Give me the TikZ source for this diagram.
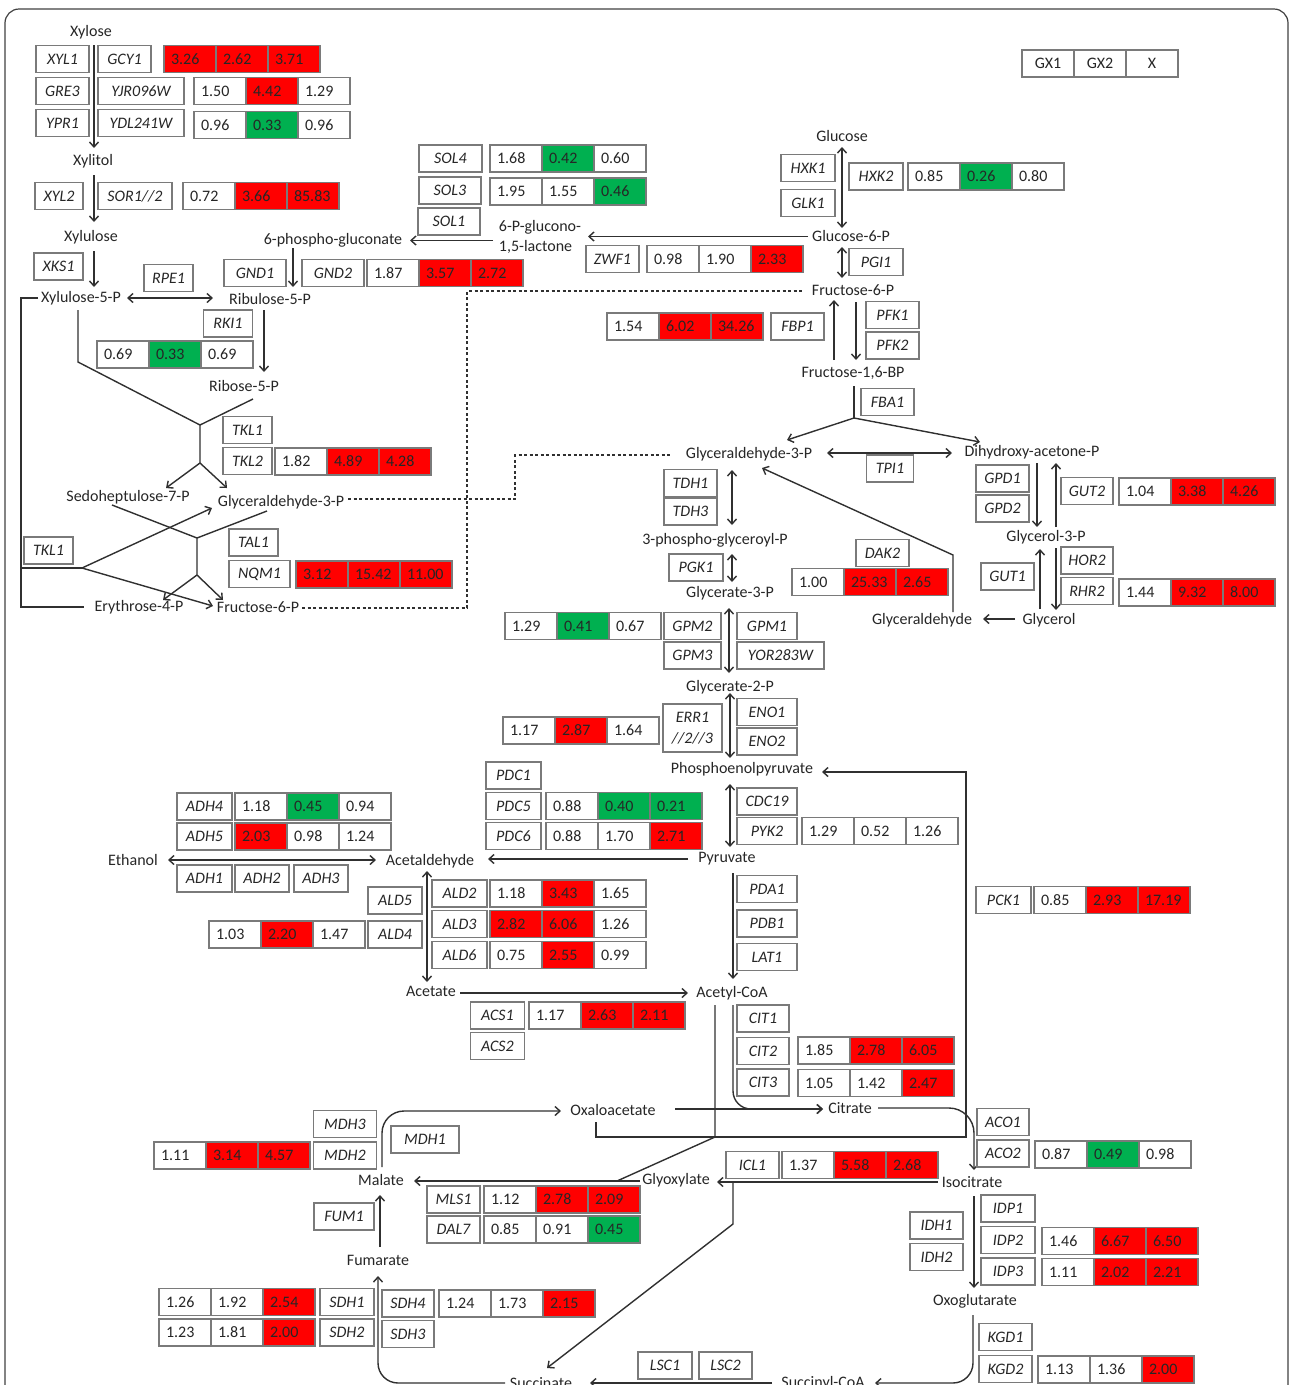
\documentclass[tikz,border=0pt]{standalone}
\usepackage{fontspec}
\setmainfont{Carlito}
\usetikzlibrary{arrows.meta}
\definecolor{cr}{HTML}{FF0000}
\definecolor{cg}{HTML}{00B050}
\definecolor{bx}{HTML}{7A7A7A}
\definecolor{lc}{HTML}{303030}
\definecolor{tx}{HTML}{262626}
\newcommand\fs{\fontsize{16}{19}\selectfont}
\newcommand\vrow[8]{%
 \node[val,fill=#3,anchor=west] (#1a) at (#2) {#4};
 \node[val,fill=#5,anchor=west] (#1b) at (#1a.east) {#6};
 \node[val,fill=#7,anchor=west] (#1c) at (#1b.east) {#8};}
\newcommand\genebox[4]{\node[gene,minimum width=#2pt] (#1) at (#3) {#4};}
\tikzset{
 gene/.style={draw=bx, line width=1.3pt, fill=white, font=\fs\itshape, text=tx, minimum height=27pt, inner sep=0pt, outer sep=0pt},
 val/.style={draw=bx, line width=1.3pt, font=\fs, text=tx, minimum height=27pt, text width=38pt, inner xsep=7pt, inner ysep=0pt, outer sep=0pt, align=left},
 leg/.style={draw=bx, line width=1.3pt, font=\fs, text=tx, minimum height=27pt, minimum width=52pt, inner sep=0pt, outer sep=0pt},
 met/.style={font=\fs, text=tx, inner sep=1pt},
 arr/.style={draw=lc, line width=1.4pt, -{Straight Barb[length=5pt,width=9pt]}},
 darr/.style={draw=lc, line width=1.4pt, {Straight Barb[length=5pt,width=9pt]}-{Straight Barb[length=5pt,width=9pt]}},
 link/.style={draw=lc, line width=1.4pt},
 dotlink/.style={draw=lc, line width=1.1pt, dash pattern=on 3pt off 2.5pt},
}
\begin{document}
\begin{tikzpicture}[x=1pt,y=-1pt]
\useasboundingbox (0,0) rectangle (1290,1385);
\clip (0,0) rectangle (1290,1385);
\draw[line width=1.2pt, draw=black!75, rounded corners=14pt] (5,1420) -- (5,9) -- (1288,9) -- (1288,1420);

% legend
\node[leg] (lg1) at (1048,63.5) {GX1};
\node[leg,anchor=west] (lg2) at (lg1.east) {GX2};
\node[leg,anchor=west] (lg3) at (lg2.east) {X};

% ---------- connectors (drawn first) ----------
% xylose branch
\draw[arr] (94,45) -- (94,148);
\draw[arr] (94,175) -- (94,222);
\draw[arr] (94,251) -- (94,287);
\draw[darr] (127,298) -- (213,298);
\draw[arr] (293,248) -- (293,287);
\draw[arr] (493,240.5) -- (410,240.5);
\draw[arr] (808,236.5) -- (588,236.5);
% PPP non-oxidative
\draw[link] (38,298) -- (21,298) -- (21,607) -- (84,607);
\draw[link] (21,568) -- (82,568);
\draw[arr] (82,568) -- (212,508);
\draw[arr] (82,568) -- (213,606);
\draw[link] (78,310) -- (78,362) -- (200,425) -- (200,463);
\draw[link] (253,399) -- (200,425);
\draw[arr] (200,463) -- (166,488);
\draw[arr] (200,463) -- (227,488);
\draw[arr] (264,310) -- (264,372);
\draw[link] (112,505) -- (197,538) -- (197,575);
\draw[link] (267,511) -- (197,538);
\draw[arr] (197,575) -- (163,600);
\draw[arr] (197,575) -- (223,600);
\draw[dotlink] (302,608) -- (467,608) -- (467,291) -- (803,291);
\draw[dotlink] (348,499) -- (515,499) -- (515,455) -- (670,455);
% glycolysis
\draw[darr] (842,147) -- (842,228);
\draw[darr] (842,247) -- (842,278);
\draw[arr] (834,360) -- (834,300);
\draw[arr] (856,302) -- (856,360);
\draw[link] (854,386) -- (854,418);
\draw[arr] (854,418) -- (787,440);
\draw[arr] (854,418) -- (980,442);
\draw[darr] (827,453) -- (952,453);
\draw[darr] (732,470) -- (732,525);
\draw[darr] (732,554) -- (732,582);
\draw[darr] (729,608) -- (729,673);
\draw[darr] (730,693) -- (730,758);
\draw[darr] (730,784) -- (730,847);
\draw[arr] (688,859) -- (488,859);
\draw[darr] (168,860) -- (376,860);
\draw[darr] (427,871) -- (427,982);
\draw[arr] (460,993) -- (688,993);
\draw[arr] (733,873) -- (733,979);
% glycerol
\draw[arr] (1037,463) -- (1037,527);
\draw[arr] (1056,527) -- (1056,463);
\draw[arr] (1040,609) -- (1040,549);
\draw[arr] (1056,548) -- (1056,610);
\draw[arr] (1015,619) -- (983,619);
\draw[arr] (953,612) -- (953,555) -- (762,468);
% TCA / glyoxylate
\draw[arr] (596,1122) -- (596,1137) -- (966,1137) -- (966,772) -- (822,772);
\draw[arr, rounded corners=22pt] (382,1167) -- (382,1111) -- (561,1111);
\draw[arr] (675,1109) -- (823,1109);
\draw[arr, rounded corners=18pt] (733,1005) -- (733,1109) -- (823,1109);
\draw[link] (715,1005) -- (715,1137) -- (617,1181);
\draw[arr] (640,1181) -- (414,1181);
\draw[arr, rounded corners=25pt] (878,1108) -- (974,1108) -- (974,1170);
\draw[arr] (938,1182) -- (717,1182);
\draw[arr] (733,1182) -- (733,1224) -- (547,1368);
\draw[arr] (974,1196) -- (974,1288);
\draw[arr, rounded corners=20pt] (973,1315) -- (973,1383) -- (875,1383);
\draw[arr] (772,1383) -- (590,1383);
\draw[arr, rounded corners=20pt] (505,1383) -- (378,1383) -- (378,1276);
\draw[arr] (380,1247) -- (380,1195);

% ---------- metabolites ----------
\node[met] (xylose) at (91,32) {Xylose};
\node[met] (xylitol) at (93,161) {Xylitol};
\node[met] (xylulose) at (91,237) {Xylulose};
\node[met] (xu5p) at (81,298) {Xylulose-5-P};
\node[met] (ru5p) at (270,299) {Ribulose-5-P};
\node[met] (pglc) at (333,240) {6-phospho-gluconate};
\node[met, align=left, font=\fontsize{16}{20}\selectfont] (pgl) at (540,237) {6-P-glucono-\\1,5-lactone};
\node[met] (glucose) at (842,136) {Glucose};
\node[met] (g6p) at (851,236) {Glucose-6-P};
\node[met] (f6p) at (853,290) {Fructose-6-P};
\node[met] (fbp) at (853,373) {Fructose-1,6-BP};
\node[met] (gap) at (749,454) {Glyceraldehyde-3-P};
\node[met] (dhap) at (1032,452) {Dihydroxy-acetone-P};
\node[met] (bpg) at (715,540) {3-phospho-glyceroyl-P};
\node[met] (pg3) at (730,593) {Glycerate-3-P};
\node[met] (pg2) at (730,687) {Glycerate-2-P};
\node[met] (pep) at (742,769) {Phosphoenolpyruvate};
\node[met] (pyr) at (727,859) {Pyruvate};
\node[met] (acald) at (430,861) {Acetaldehyde};
\node[met] (etoh) at (133,860) {Ethanol};
\node[met] (acet) at (431,991) {Acetate};
\node[met] (accoa) at (732,993) {Acetyl-CoA};
\node[met] (gly3p) at (1046,537) {Glycerol-3-P};
\node[met] (glycerol) at (1049,620) {Glycerol};
\node[met] (glyald) at (922,620) {Glyceraldehyde};
\node[met] (r5p) at (244,386) {Ribose-5-P};
\node[met] (s7p) at (128,497) {Sedoheptulose-7-P};
\node[met] (gapp) at (281,502) {Glyceraldehyde-3-P};
\node[met] (e4p) at (139,607) {Erythrose-4-P};
\node[met] (f6pp) at (258,607) {Fructose-6-P};
\node[met] (oaa) at (613,1110) {Oxaloacetate};
\node[met] (cit) at (850,1108) {Citrate};
\node[met] (icit) at (972,1182) {Isocitrate};
\node[met] (glx) at (676,1180) {Glyoxylate};
\node[met] (mal) at (381,1180) {Malate};
\node[met] (fum) at (378,1260) {Fumarate};
\node[met] (akg) at (975,1301) {Oxoglutarate};
\node[met] (succoa) at (823,1383) {Succinyl-CoA};
\node[met] (succ) at (541,1383) {Succinate};

% ---------- gene boxes ----------
\genebox{xyl1}{53}{62.5,59}{XYL1}
\genebox{gcy1}{53}{124.5,59}{GCY1}
\genebox{gre3}{53}{62.5,91}{GRE3}
\genebox{yjr}{86}{141,91}{YJR096W}
\genebox{ypr1}{53}{62.5,123}{YPR1}
\genebox{ydl}{86}{141,123}{YDL241W}
\genebox{xyl2}{48}{59,196}{XYL2}
\genebox{sor}{74}{135,196}{SOR1//2}
\genebox{xks1}{49}{58.5,266.5}{XKS1}
\genebox{rpe1}{49}{168.5,278}{RPE1}
\genebox{gnd1}{62}{255,273}{GND1}
\genebox{gnd2}{62}{333,273}{GND2}
\genebox{sol4}{63}{450.5,158.5}{SOL4}
\genebox{sol3}{62}{450,190.5}{SOL3}
\genebox{sol1}{62}{449,221.5}{SOL1}
\genebox{zwf1}{53}{612.5,259}{ZWF1}
\genebox{hxk1}{54}{808,168}{HXK1}
\genebox{glk1}{54}{808,203}{GLK1}
\genebox{hxk2}{54}{876,176.5}{HXK2}
\genebox{pgi1}{54}{876,262}{PGI1}
\genebox{fbp1}{53}{797.5,326.5}{FBP1}
\genebox{pfk1}{53}{892.5,315}{PFK1}
\genebox{pfk2}{53}{892.5,345.5}{PFK2}
\genebox{fba1}{53}{887.5,402}{FBA1}
\genebox{tpi1}{47}{890,468.5}{TPI1}
\genebox{tdh1}{53}{690.5,483}{TDH1}
\genebox{tdh3}{53}{690.5,511.5}{TDH3}
\genebox{pgk1}{54}{696,567.5}{PGK1}
\genebox{gpm2}{57}{692.5,626}{GPM2}
\genebox{gpm3}{57}{692.5,655.5}{GPM3}
\genebox{gpm1}{60}{767,626}{GPM1}
\genebox{yor}{87}{780.5,655.5}{YOR283W}
\genebox{dak2}{53}{882.5,553}{DAK2}
\genebox{gpd1}{53}{1002.5,478.5}{GPD1}
\genebox{gpd2}{53}{1002.5,508.5}{GPD2}
\genebox{gut2}{52}{1087,491}{GUT2}
\genebox{gut1}{53}{1007.5,576.5}{GUT1}
\genebox{hor2}{52}{1087,560.5}{HOR2}
\genebox{rhr2}{52}{1087,591}{RHR2}
\node[gene,minimum width=59pt,minimum height=48pt,align=center,font=\fontsize{16}{21}\selectfont\itshape] (err) at (692.5,728) {ERR1\\//2//3};
\genebox{eno1}{60}{767,712}{ENO1}
\genebox{eno2}{60}{767,741.5}{ENO2}
\genebox{pdc1}{55}{513.5,775.5}{PDC1}
\genebox{pdc5}{55}{513.5,806}{PDC5}
\genebox{pdc6}{55}{513.5,836}{PDC6}
\genebox{cdc19}{60}{767,801.5}{CDC19}
\genebox{pyk2}{60}{767,831}{PYK2}
\genebox{pda1}{60}{767,889}{PDA1}
\genebox{pdb1}{60}{767,923.5}{PDB1}
\genebox{lat1}{60}{767,957}{LAT1}
\genebox{adh4}{55}{204.5,806.5}{ADH4}
\genebox{adh5}{55}{204.5,836.5}{ADH5}
\genebox{adh1}{55}{204.5,878.5}{ADH1}
\genebox{adh2}{54}{262,878.5}{ADH2}
\genebox{adh3}{54}{321,878.5}{ADH3}
\genebox{ald5}{54}{395,900.5}{ALD5}
\genebox{ald4}{54}{395,934.5}{ALD4}
\genebox{ald2}{55}{459.5,893.5}{ALD2}
\genebox{ald3}{55}{459.5,924}{ALD3}
\genebox{ald6}{55}{459.5,955}{ALD6}
\genebox{acs1}{54}{497.5,1015.5}{ACS1}
\genebox{acs2}{54}{497.5,1046}{ACS2}
\genebox{cit1}{52}{763,1018.5}{CIT1}
\genebox{cit2}{52}{763,1051}{CIT2}
\genebox{cit3}{52}{763,1082.5}{CIT3}
\genebox{aco1}{52}{1003,1122}{ACO1}
\genebox{aco2}{52}{1003,1153.5}{ACO2}
\genebox{icl1}{53}{752.5,1165}{ICL1}
\genebox{idp1}{54}{1008,1208.5}{IDP1}
\genebox{idp2}{54}{1008,1240}{IDP2}
\genebox{idp3}{54}{1008,1271.5}{IDP3}
\genebox{idh1}{53}{936.5,1225.5}{IDH1}
\genebox{idh2}{53}{936.5,1257}{IDH2}
\genebox{kgd1}{53}{1005.5,1337}{KGD1}
\genebox{kgd2}{53}{1005.5,1369}{KGD2}
\genebox{lsc1}{54}{665,1365.5}{LSC1}
\genebox{lsc2}{53}{725.5,1365.5}{LSC2}
\genebox{mdh3}{63}{345,1124}{MDH3}
\genebox{mdh2}{63}{345,1155.5}{MDH2}
\genebox{mdh1}{68}{425,1139.5}{MDH1}
\genebox{mls1}{53}{453.5,1199.5}{MLS1}
\genebox{dal7}{53}{453.5,1229.5}{DAL7}
\genebox{fum1}{60}{344,1216.5}{FUM1}
\genebox{sdh1}{54}{347,1302}{SDH1}
\genebox{sdh2}{54}{347,1332.5}{SDH2}
\genebox{sdh4}{52}{408,1303.5}{SDH4}
\genebox{sdh3}{52}{408,1334}{SDH3}
\genebox{tkla}{49}{247.5,430}{TKL1}
\genebox{tkl2}{49}{247.5,461}{TKL2}
\genebox{tklb}{49}{48.5,550.5}{TKL1}
\genebox{tal1}{49}{253.5,542.5}{TAL1}
\genebox{nqm1}{61}{259.5,574}{NQM1}
\genebox{rki1}{49}{228,323.5}{RKI1}
\genebox{pck1}{55}{1003.5,900}{PCK1}

% ---------- value rows ----------
\vrow{vgcy}{164,59}{cr}{3.26}{cr}{2.62}{cr}{3.71}
\vrow{vyjr}{194,91}{white}{1.50}{cr}{4.42}{white}{1.29}
\vrow{vydl}{194,125}{white}{0.96}{cg}{0.33}{white}{0.96}
\vrow{vsor}{183,196}{white}{0.72}{cr}{3.66}{cr}{85.83}
\vrow{vgnd}{367,273}{white}{1.87}{cr}{3.57}{cr}{2.72}
\vrow{vsolf}{490,158.5}{white}{1.68}{cg}{0.42}{white}{0.60}
\vrow{vsolt}{490,191.5}{white}{1.95}{white}{1.55}{cg}{0.46}
\vrow{vzwf}{647,259}{white}{0.98}{white}{1.90}{cr}{2.33}
\vrow{vhxk}{908,176.5}{white}{0.85}{cg}{0.26}{white}{0.80}
\vrow{vfbp}{607,326.5}{white}{1.54}{cr}{6.02}{cr}{34.26}
\vrow{vrki}{97,354.5}{white}{0.69}{cg}{0.33}{white}{0.69}
\vrow{vtkl}{275,461.5}{white}{1.82}{cr}{4.89}{cr}{4.28}
\vrow{vnqm}{296,574.5}{cr}{3.12}{cr}{15.42}{cr}{11.00}
\vrow{vgut}{1119,491.5}{white}{1.04}{cr}{3.38}{cr}{4.26}
\vrow{vdak}{792,582}{white}{1.00}{cr}{25.33}{cr}{2.65}
\vrow{vrhr}{1119,592.5}{white}{1.44}{cr}{9.32}{cr}{8.00}
\vrow{vgpm}{505,626}{white}{1.29}{cg}{0.41}{white}{0.67}
\vrow{verr}{503,730.5}{white}{1.17}{cr}{2.87}{white}{1.64}
\vrow{vadhf}{235,806.5}{white}{1.18}{cg}{0.45}{white}{0.94}
\vrow{vadhv}{235,836.5}{cr}{2.03}{white}{0.98}{white}{1.24}
\vrow{vpdcf}{546,806}{white}{0.88}{cg}{0.40}{cg}{0.21}
\vrow{vpdcs}{546,836}{white}{0.88}{white}{1.70}{cr}{2.71}
\vrow{vpyk}{802,831}{white}{1.29}{white}{0.52}{white}{1.26}
\vrow{valdb}{490,893.5}{white}{1.18}{cr}{3.43}{white}{1.65}
\vrow{valdc}{490,924}{cr}{2.82}{cr}{6.06}{white}{1.26}
\vrow{valdf}{490,955}{white}{0.75}{cr}{2.55}{white}{0.99}
\vrow{valdd}{209,934.5}{white}{1.03}{cr}{2.20}{white}{1.47}
\vrow{vpck}{1034,900}{white}{0.85}{cr}{2.93}{cr}{17.19}
\vrow{vacs}{529,1015.5}{white}{1.17}{cr}{2.63}{cr}{2.11}
\vrow{vcitb}{798,1050.5}{white}{1.85}{cr}{2.78}{cr}{6.05}
\vrow{vcitc}{798,1083}{white}{1.05}{white}{1.42}{cr}{2.47}
\vrow{vaco}{1035,1154.5}{white}{0.87}{cg}{0.49}{white}{0.98}
\vrow{vicl}{782,1165}{white}{1.37}{cr}{5.58}{cr}{2.68}
\vrow{vmdh}{154,1155.5}{white}{1.11}{cr}{3.14}{cr}{4.57}
\vrow{vmls}{484,1199.5}{white}{1.12}{cr}{2.78}{cr}{2.09}
\vrow{vdal}{484,1229.5}{white}{0.85}{white}{0.91}{cg}{0.45}
\vrow{vidpb}{1042,1241}{white}{1.46}{cr}{6.67}{cr}{6.50}
\vrow{vidpc}{1042,1272}{white}{1.11}{cr}{2.02}{cr}{2.21}
\vrow{vsdha}{159,1302}{white}{1.26}{white}{1.92}{cr}{2.54}
\vrow{vsdhb}{159,1332.5}{white}{1.23}{white}{1.81}{cr}{2.00}
\vrow{vsdhd}{439,1303.5}{white}{1.24}{white}{1.73}{cr}{2.15}
\vrow{vkgd}{1038,1369.5}{white}{1.13}{white}{1.36}{cr}{2.00}
\end{tikzpicture}
\end{document}
